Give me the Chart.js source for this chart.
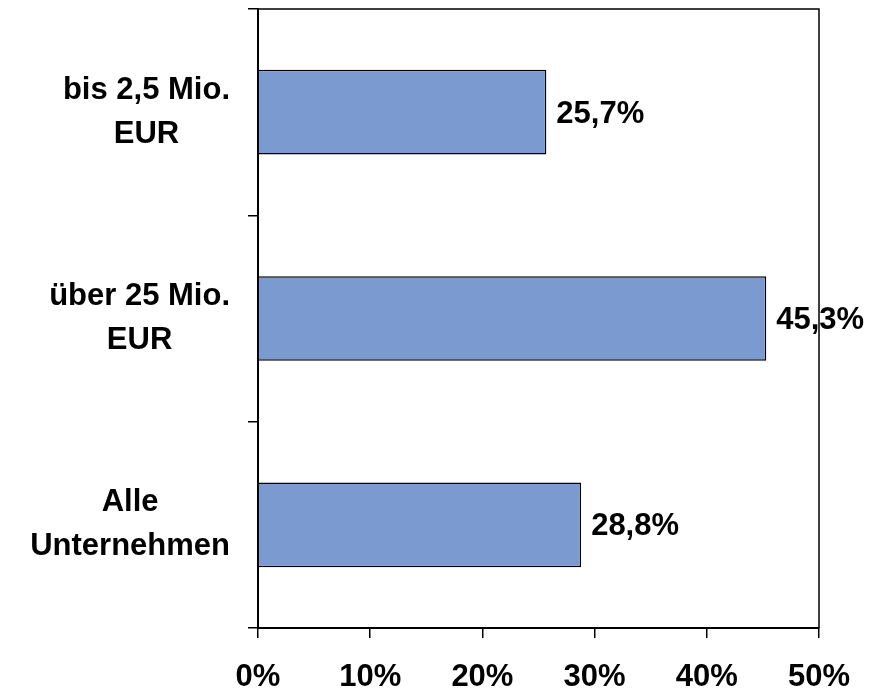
<!DOCTYPE html>
<html>
<head>
<meta charset="utf-8">
<script src="https://cdn.jsdelivr.net/npm/chart.js@4.4.0/dist/chart.umd.min.js"></script>
<style>
  html, body { margin: 0; padding: 0; background: #fff; }
  #wrap { width: 882px; height: 690px; position: relative; }
</style>
</head>
<body>
<div id="wrap"><canvas id="c" width="882" height="690"></canvas></div>
<script>
const categories = [["bis 2,5 Mio.", "EUR"], ["über 25 Mio.", "EUR"], ["Alle", "Unternehmen"]];
const values = [25.7, 45.3, 28.8];
const valueLabels = ["25,7%", "45,3%", "28,8%"];
const xTickMin = 0, xTickMax = 50, xTickStep = 10;

const FONT = "'Liberation Sans', Arial, sans-serif";

const labelPlugin = {
  id: 'customLabels',
  afterDatasetsDraw(chart) {
    const ctx = chart.ctx;
    const meta = chart.getDatasetMeta(0);
    ctx.save();
    ctx.font = "bold 31px " + FONT;
    ctx.fillStyle = '#000';
    ctx.textAlign = 'left';
    ctx.textBaseline = 'middle';
    meta.data.forEach((bar, i) => {
      ctx.fillText(valueLabels[i], bar.x + 10, bar.y + 2);
    });
    // category labels: block right-aligned, lines centred in block
    const yScale = chart.scales.y;
    const rightEdge = yScale.right - 28;
    const lineGap = 44;
    ctx.textAlign = 'center';
    categories.forEach((lines, i) => {
      const cy = yScale.getPixelForTick(i);
      const w = Math.max(...lines.map(l => ctx.measureText(l).width));
      const cx = rightEdge - w / 2;
      const y0 = cy - (lines.length - 1) * lineGap / 2;
      lines.forEach((l, j) => ctx.fillText(l, cx, y0 + j * lineGap));
    });
    ctx.restore();
  },
  afterDraw(chart) {
    const ctx = chart.ctx;
    const a = chart.chartArea;
    ctx.save();
    ctx.strokeStyle = '#000';
    ctx.lineWidth = 1.5;
    ctx.beginPath();
    ctx.moveTo(a.left, a.top);
    ctx.lineTo(a.right, a.top);
    ctx.lineTo(a.right, a.bottom);
    ctx.stroke();
    ctx.restore();
  }
};

new Chart(document.getElementById('c'), {
  type: 'bar',
  data: {
    labels: categories,
    datasets: [{
      data: values,
      backgroundColor: '#7b9bd0',
      borderColor: '#000',
      borderWidth: 1.5,
      barPercentage: 0.41,
      categoryPercentage: 1.0
    }]
  },
  options: {
    indexAxis: 'y',
    responsive: false,
    animation: false,
    layout: { padding: { top: 9, right: 63, left: 0, bottom: 0 } },
    plugins: { legend: { display: false }, tooltip: { enabled: false } },
    scales: {
      x: {
        min: xTickMin, max: xTickMax,
        ticks: {
          stepSize: xTickStep,
          color: '#000',
          padding: 26,
          font: { family: FONT, size: 31, weight: 'bold', lineHeight: 0.9 },
          callback: v => v + '%',
          maxRotation: 0
        },
        grid: { drawOnChartArea: false, tickLength: 10, color: '#000', lineWidth: 1.5 },
        border: { color: '#000', width: 2 },
        afterFit: s => { s.height = 62; s.paddingLeft = 0; s.paddingRight = 0; }
      },
      y: {
        ticks: { display: false },
        grid: { offset: true, drawOnChartArea: false, tickLength: 10, color: '#000', lineWidth: 1.5 },
        border: { color: '#000', width: 2 },
        afterFit: s => { s.width = 258; s.paddingTop = 0; s.paddingBottom = 0; }
      }
    }
  },
  plugins: [labelPlugin]
});
</script>
</body>
</html>
